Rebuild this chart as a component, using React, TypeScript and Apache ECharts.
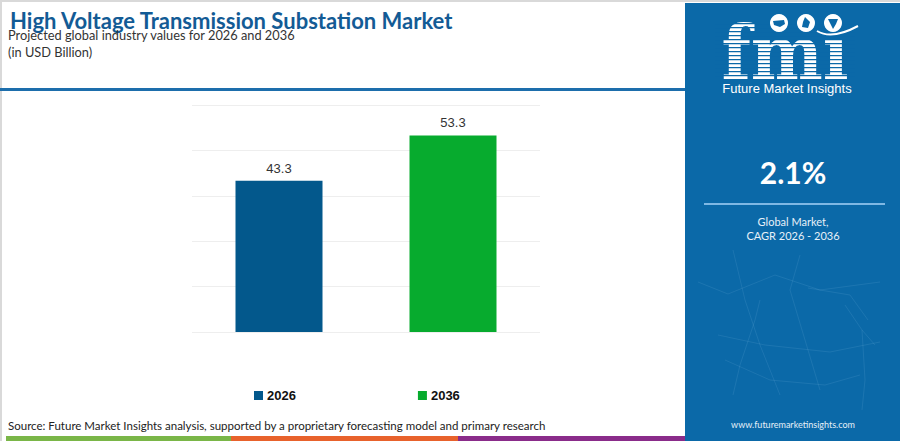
import React, { useEffect, useRef } from "react";
import * as echarts from "echarts";

const categories = ["2026", "2036"];
const values = [43.3, 53.3];
const barColors = ["#03588c", "#07ab2e"];
const titleText = "High Voltage Transmission Substation Market";
const subtitleLines = ["Projected global industry values for 2026 and 2036", "(in USD Billion)"];
const cagrValue = "2.1%";
const cagrLabel = ["Global Market,", "CAGR 2026 - 2036"];
const sourceText =
  "Source: Future Market Insights analysis, supported by a proprietary forecasting model and primary research";
const siteText = "www.futuremarketinsights.com";

const PANEL = "#0b69a8";

const networkLines: number[][][] = [
  [[733, 250], [745, 300], [760, 345], [780, 395]],
  [[698, 282], [728, 294], [775, 275], [820, 290], [880, 282]],
  [[718, 335], [765, 345], [830, 352], [880, 342]],
  [[760, 300], [755, 320], [740, 365], [733, 395]],
  [[800, 255], [790, 290], [805, 340], [820, 390]],
  [[845, 305], [862, 330], [875, 345]],
  [[862, 330], [865, 380], [862, 410]],
  [[725, 360], [770, 380], [825, 385], [860, 375]],
  [[808, 288], [850, 295], [868, 320]],
];

function buildGraphics() {
  const g: any[] = [];
  // outer light border
  g.push({ type: "rect", shape: { x: 0, y: 0, width: 900, height: 2 }, style: { fill: "#d9d9d9" }, silent: true });
  g.push({ type: "rect", shape: { x: 0, y: 0, width: 2, height: 441 }, style: { fill: "#d9d9d9" }, silent: true });
  // header line
  g.push({ type: "rect", shape: { x: 0, y: 88, width: 686, height: 3 }, style: { fill: "#1d6eac" }, silent: true });
  // title texts
  g.push({
    type: "text",
    style: { text: titleText, x: 10, y: 20, fill: "#135b95", font: "bold 22px Lato", textAlign: "left", textVerticalAlign: "middle" },
  });
  subtitleLines.forEach((t, i) => {
    g.push({
      type: "text",
      style: { text: t, x: 8, y: 35 + i * 17, fill: "#333333", font: "12.8px Lato", textAlign: "left", textVerticalAlign: "middle" },
    });
  });
  // source
  g.push({
    type: "text",
    style: { text: sourceText, x: 8, y: 425, fill: "#222222", font: "11.5px Lato", textAlign: "left", textVerticalAlign: "middle" },
  });
  // bottom stripes
  g.push({ type: "rect", shape: { x: 6, y: 436, width: 225, height: 5 }, style: { fill: "#7ab648" }, silent: true });
  g.push({ type: "rect", shape: { x: 231, y: 436, width: 227, height: 5 }, style: { fill: "#e8622c" }, silent: true });
  g.push({ type: "rect", shape: { x: 458, y: 436, width: 228, height: 5 }, style: { fill: "#8a2c8a" }, silent: true });
  // right panel
  g.push({ type: "rect", shape: { x: 685, y: 3, width: 215, height: 438 }, style: { fill: PANEL }, silent: true });
  // network pattern
  networkLines.forEach((pts) => {
    g.push({ type: "polyline", shape: { points: pts }, style: { stroke: "rgba(160,205,240,0.12)", lineWidth: 1, fill: null }, silent: true });
  });
  // fmi logo
  g.push({
    type: "text",
    style: { text: "fmı", x: 785, y: 53, fill: "#ffffff", font: "bold 74px 'DejaVu Serif'", textAlign: "center", textVerticalAlign: "middle" },
    scaleX: 0.92,
    originX: 785,
    originY: 50,
  });
  for (let y = 23; y < 78; y += 4) {
    g.push({ type: "rect", shape: { x: 715, y, width: 140, height: 1.3 }, style: { fill: PANEL }, silent: true });
  }
  [779, 806, 833].forEach((cx, k) => {
    g.push({ type: "circle", shape: { cx, cy: 23, r: 9 }, style: { fill: "#ffffff" }, silent: true });
    g.push({
      type: "polygon",
      shape: {
        points:
          k === 0
            ? [[cx - 6, cy0 - 2], [cx + 5, cy0 - 3], [cx + 6, cy0 + 1], [cx + 1, cy0 + 4], [cx - 5, cy0 + 2]]
            : k === 1
            ? [[cx - 1, cy0 - 6], [cx + 4, cy0 - 1], [cx + 2, cy0 + 5], [cx - 4, cy0 + 4], [cx - 3, cy0 - 1]]
            : [[cx - 5, cy0 - 4], [cx + 5, cy0 - 4], [cx + 3, cy0 + 1], [cx, cy0 + 6], [cx - 3, cy0]],
      },
      style: { fill: PANEL },
      silent: true,
    });
  });
  g.push({
    type: "bezierCurve",
    shape: { x1: 817, y1: 31, cpx1: 832, cpy1: 40, x2: 858, y2: 26 },
    style: { stroke: "#ffffff", lineWidth: 2, fill: null },
    silent: true,
  });
  g.push({
    type: "text",
    style: { text: "Future Market Insights", x: 787, y: 88, fill: "#ffffff", font: "13px 'Liberation Sans Narrow', 'Liberation Sans'", textAlign: "center", textVerticalAlign: "middle" },
  });
  // CAGR
  g.push({
    type: "text",
    style: { text: cagrValue, x: 793, y: 172, fill: "#ffffff", font: "bold 30px Lato", textAlign: "center", textVerticalAlign: "middle" },
  });
  g.push({ type: "rect", shape: { x: 704, y: 203, width: 181, height: 2 }, style: { fill: "#7fb8e4" }, silent: true });
  cagrLabel.forEach((t, i) => {
    g.push({
      type: "text",
      style: { text: t, x: 793, y: 221 + i * 14, fill: "#e6f0f8", font: "11px Lato", textAlign: "center", textVerticalAlign: "middle" },
    });
  });
  g.push({
    type: "text",
    style: { text: siteText, x: 793, y: 424, fill: "#e6f0f8", font: "9px Lato", textAlign: "center", textVerticalAlign: "middle" },
  });
  return g;
}

const cy0 = 23;

export default function App() {
  const ref = useRef<HTMLDivElement>(null);
  useEffect(() => {
    if (!ref.current) return;
    const chart = echarts.init(ref.current, undefined, { renderer: "svg" });
    chart.setOption({
      animation: false,
      backgroundColor: "#ffffff",
      grid: { left: 192, right: 360, top: 105, bottom: 109 },
      xAxis: {
        type: "category",
        data: categories,
        axisLine: { show: false },
        axisTick: { show: false },
        axisLabel: { show: false },
      },
      yAxis: {
        type: "value",
        min: 10,
        max: 60,
        interval: 10,
        axisLabel: { show: false },
        axisLine: { show: false },
        axisTick: { show: false },
        splitLine: { lineStyle: { color: "#eeeeee", width: 1 } },
      },
      legend: {
        data: categories,
        left: 254,
        top: 389,
        padding: 0,
        icon: "rect",
        itemWidth: 9,
        itemHeight: 9,
        itemGap: 122,
        textStyle: { fontFamily: "'Liberation Sans', Arial", fontWeight: "bold", fontSize: 13, color: "#111111", padding: [0, 0, 0, -1] },
      },
      series: categories.map((c, i) => ({
        name: c,
        type: "bar",
        data: categories.map((_, j) => (j === i ? values[i] : "-")),
        barWidth: 87,
        barGap: "-100%",
        itemStyle: { color: barColors[i] },
        label: {
          show: true,
          position: "top",
          distance: 6,
          fontFamily: "'Liberation Sans', Arial",
          fontSize: 13,
          color: "#333333",
        },
      })),
      graphic: buildGraphics(),
    });
    return () => chart.dispose();
  }, []);
  return <div ref={ref} style={{ position: "fixed", left: 0, top: 0, width: 900, height: 441 }} />;
}
